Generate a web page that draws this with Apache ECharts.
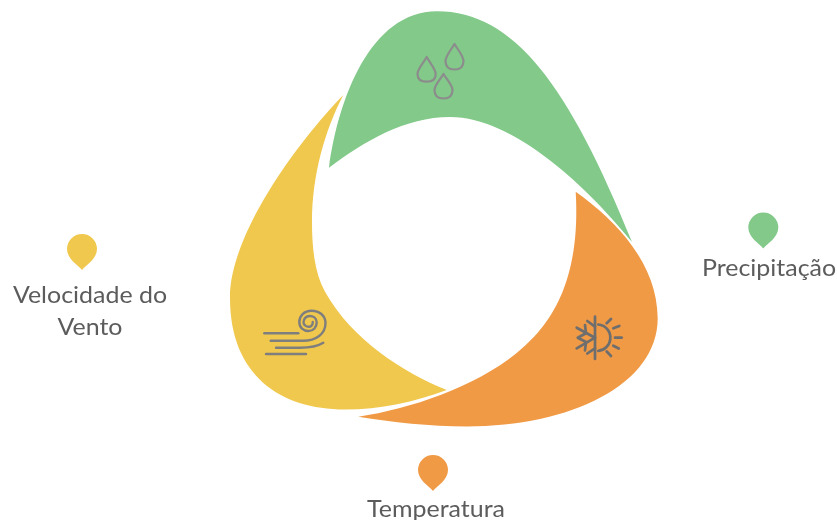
<!DOCTYPE html>
<html><head><meta charset="utf-8">
<style>html,body{margin:0;padding:0;background:#fff}#c{width:837px;height:520px}</style>
<script src="https://cdn.jsdelivr.net/npm/echarts@6/dist/echarts.min.js"></script>
</head><body><div id="c"></div>
<script>
var categories = ['Precipitação', 'Temperatura', 'Velocidade do\nVento'];
var shares = [1, 1, 1];
var colors = ['#82C98A', '#F09A46', '#F0C84D'];
var iconColors = ['#8c8c8c', '#6e6e6e', '#7e7e7e'];
var iconWidths = [2.2, 2.7, 2.4];

var petals = [
 'M329,167.7 C338,100 370,11.3 437,11.3 C514,11.3 569,85.6 632,242 C590,190 515,117 450,117 C405,117 365,141 329,167.7 Z',
 'M575.7,191.7 C618,222 657.7,265 657.7,318.3 C657.7,385 570,426.5 466.7,426.5 C430,426.5 392,422 358.3,416.7 C410,409 475,387 516.7,353 C550,326 581,283 575.7,191.7 Z',
 'M343.3,95 C295,145 230,235 230,298 C230,375 280,409.5 345,409.5 C380,409.5 415,402 446.7,390 C403,372 352,340 325,291.7 C314,272 312,245 312,221.7 C312,175 325,130 343.3,95 Z'
];
var icons = [
 ['M426.7,57 C423.5,63 417.5,69 417.5,74 C417.5,79 421,81.7 426.7,81.7 C432.3,81.7 435.7,79 435.7,74 C435.7,69 430,63 426.7,57 Z',
  'M454.5,44 C451,50 445.5,56 445.5,61 C445.5,67 449,69.5 454.5,69.5 C460,69.5 463.5,67 463.5,61 C463.5,56 458,50 454.5,44 Z',
  'M443.5,74 C440,80 434.5,85 434.5,90 C434.5,96 438,98.5 443.5,98.5 C449,98.5 452.5,96 452.5,90 C452.5,85 447,80 443.5,74 Z'],
 ['M595,316.7 L595,359', 'M598.3,324.5 A13.2,13.2 0 0 1 598.3,350.8',
  'M615,337.7 L621.7,337.7', 'M606.7,323.3 L611,319', 'M613.3,328.3 L619.3,326', 'M613.3,345.7 L618.8,348.5', 'M606.7,351.5 L611,356',
  'M595,337.7 L576.7,327.7', 'M595,337.7 L576.7,348.3',
  'M587.3,321 L595,326.7', 'M587.3,353.5 L595,348.3',
  'M585,325 L586,333.3 L577.7,337.7 L586,342 L585,350.3'],
 ['M264.3,333.3 L298.3,333.3',
  'M270.7,340.8 L303,340.8 C316,340.8 325.5,334 325.5,323 C325.5,315.5 319,310.7 311.7,310.7 C304,310.7 299.3,316 299.3,322 C299.3,327.5 303.5,331 308.5,331 C313.5,331 316.7,327 316.7,322.5 C316.7,318.5 313.5,316 309.5,316 C306,316 303.5,319 303.5,322.3 C303.5,325 306.5,327 309.3,326.7 C311.5,326.5 313,324.5 312.7,322',
  'M276,347.7 L300,347.7 C309,347.7 318,346 323.3,342.7',
  'M266,354 L306,354']
];
var pins = [[763.3, 227.5], [433, 470], [82, 249]];
var labelPos = [[769, 268], [436, 509], [90, 311]];

var chart = echarts.init(document.getElementById('c'), null, {renderer: 'canvas'});
chart.setOption({
  animation: false,
  backgroundColor: '#fff',
  series: [{
    type: 'custom',
    coordinateSystem: 'none',
    silent: true,
    data: categories.map(function (c, i) { return {name: c, value: [i, shares[i]]}; }),
    renderItem: function (params, api) {
      var i = api.value(0), col = colors[i], p = pins[i], t = labelPos[i];
      var kids = [{type: 'path', shape: {pathData: petals[i]}, style: {fill: col}}];
      icons[i].forEach(function (d) {
        kids.push({type: 'path', shape: {pathData: d},
          style: {fill: 'none', stroke: iconColors[i], lineWidth: iconWidths[i], lineCap: 'round', lineJoin: 'round'}});
      });
      var x = p[0], y = p[1], r = 15;
      kids.push({type: 'path',
        shape: {pathData: 'M' + x + ',' + (y + 21) +
          ' C' + (x - 4) + ',' + (y + 16) + ' ' + (x - r) + ',' + (y + 10) + ' ' + (x - r) + ',' + y +
          ' A' + r + ',' + r + ' 0 0 1 ' + (x + r) + ',' + y +
          ' C' + (x + r) + ',' + (y + 10) + ' ' + (x + 4) + ',' + (y + 16) + ' ' + x + ',' + (y + 21) + ' Z'},
        style: {fill: col}});
      kids.push({type: 'text', x: t[0], y: t[1], scaleX: 1.04,
        style: {text: categories[i], fill: '#5c5c5c', align: 'center', verticalAlign: 'middle',
          font: '24px Lato', lineHeight: 32}});
      return {type: 'group', children: kids};
    }
  }]
});
</script></body></html>
